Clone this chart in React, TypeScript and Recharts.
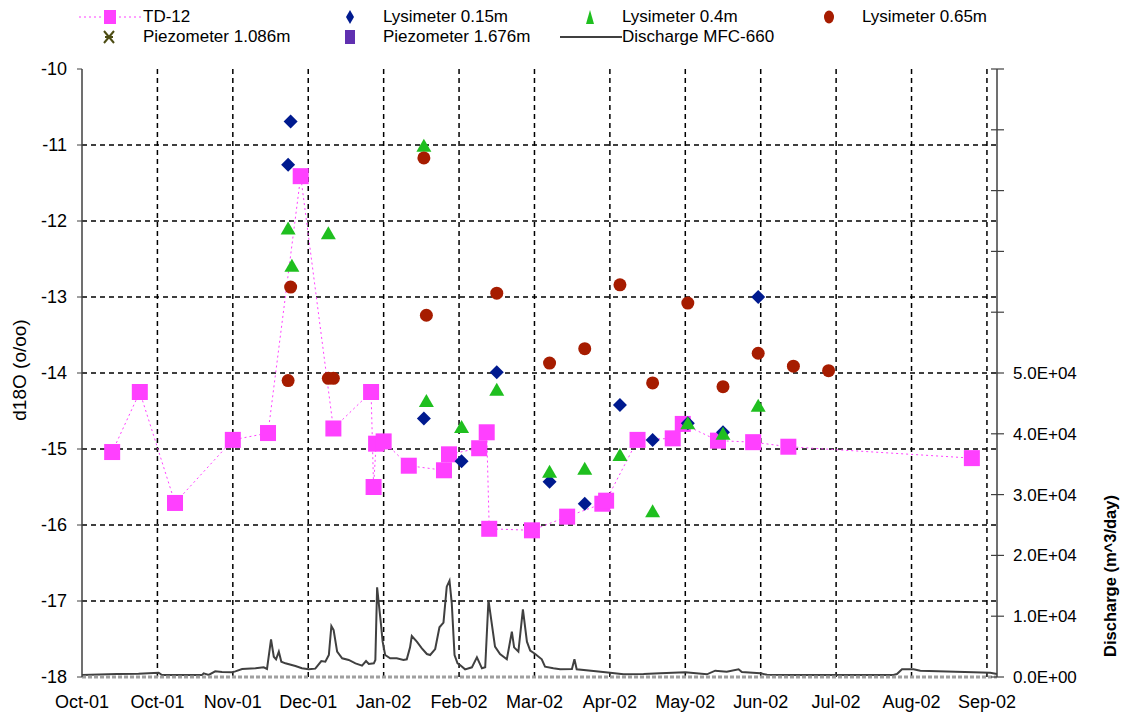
import React from 'react';
import { ComposedChart, Line, Scatter, XAxis, YAxis, ReferenceLine } from 'recharts';

const FONT = '"Liberation Sans", Arial, sans-serif';

// x axis: days since 1 Oct 2001, Excel-style 30 day major unit
const xTicks = [0, 30, 60, 90, 120, 150, 180, 210, 240, 270, 300, 330, 360];
const xTickLabels = ['Oct-01', 'Oct-01', 'Nov-01', 'Dec-01', 'Jan-02', 'Feb-02', 'Mar-02', 'Apr-02', 'May-02', 'Jun-02', 'Jul-02', 'Aug-02', 'Sep-02'];
const d18oTicks = [-18, -17, -16, -15, -14, -13, -12, -11, -10];
const gridLevels = [-17, -16, -15, -14, -13, -12, -11];
const dischargeTicks = [0, 10000, 20000, 30000, 40000, 50000, 60000, 70000, 80000, 90000, 100000];

const seriesNames = ['TD-12', 'Lysimeter 0.15m', 'Lysimeter 0.4m', 'Lysimeter 0.65m', 'Piezometer 1.086m', 'Piezometer 1.676m', 'Discharge MFC-660'];

// TD-12 stream samples
const td12Days = [12, 23, 37, 60, 74, 87, 100, 115, 116, 117, 120, 130, 144, 146, 158, 161, 162, 179, 193, 207, 208.5, 221, 235, 239, 253, 267, 281, 354];
const td12Values = [-15.04, -14.25, -15.71, -14.88, -14.79, -11.41, -14.73, -14.25, -15.5, -14.93, -14.9, -15.22, -15.28, -15.07, -14.99, -14.78, -16.05, -16.07, -15.89, -15.72, -15.68, -14.88, -14.86, -14.67, -14.89, -14.91, -14.97, -15.12];

// lysimeters
const lys015Days = [82, 83, 136, 151, 165, 186, 200, 214, 227, 241, 255, 269];
const lys015Values = [-11.26, -10.69, -14.6, -15.16, -13.99, -15.43, -15.72, -14.42, -14.88, -14.66, -14.78, -13.0];

const lys04Days = [82, 83.5, 98, 136, 137, 151, 165, 186, 200, 214, 227, 241, 255, 269];
const lys04Values = [-12.1, -12.59, -12.16, -11.01, -14.37, -14.71, -14.22, -15.3, -15.26, -15.08, -15.82, -14.66, -14.8, -14.43];

const lys065Days = [82, 83, 98, 100, 136, 137, 165, 186, 200, 214, 227, 241, 255, 269, 283, 297];
const lys065Values = [-14.1, -12.87, -14.07, -14.07, -11.17, -13.24, -12.95, -13.87, -13.68, -12.84, -14.13, -13.08, -14.18, -13.74, -13.91, -13.97];

// discharge MFC-660 (m^3/day)
const dischargeDays = [0, 13.9, 22.5, 30.5, 31.8, 47.8, 48.4, 50.4, 53, 55.7, 59.7, 61, 63.7, 69, 72.3, 73.6, 75.2, 76.3, 77.2, 78.3, 79.3, 80.9, 84.9, 87.5, 90.2, 92.8, 95.2, 96.8, 98.2, 99.2, 100.1, 101.5, 103.5, 106.1, 108.8, 111.4, 113, 114.1, 116.1, 116.7, 117.4, 118.9, 119.6, 120.6, 122.6, 125.2, 127.9, 129.2, 130.5, 131.2, 133.2, 135.2, 137.2, 138.5, 140.5, 142.2, 143.8, 145.1, 146.2, 147.1, 148.2, 149.4, 150.4, 152.4, 155.1, 157.1, 159.1, 160.4, 161.7, 164.3, 166.3, 169, 171, 171.9, 173.6, 175.4, 177, 178.3, 180.3, 182.9, 184.2, 187.5, 190.2, 194.9, 195.9, 196.8, 203.5, 210.1, 215.4, 223.4, 230, 240, 248.6, 251.9, 256.5, 261.2, 262.5, 269.8, 272.5, 283, 322.8, 324.2, 326.2, 330.8, 333.5, 354.7, 361.3, 364];
const dischargeValues = [330, 490, 550, 710, 330, 330, 600, 330, 930, 820, 770, 930, 1320, 1430, 1590, 1320, 6200, 3340, 2910, 4170, 2520, 2250, 1810, 1430, 1260, 1370, 2630, 2520, 3620, 8390, 7730, 4170, 3070, 2800, 2250, 1860, 2630, 2140, 2250, 2800, 14750, 8830, 5810, 3620, 3070, 3070, 2800, 2910, 4880, 6740, 5810, 4720, 3780, 3620, 4600, 8170, 8930, 14860, 15840, 12120, 3620, 2250, 1970, 1260, 1590, 3240, 1430, 1590, 12660, 4990, 3780, 2910, 7450, 4880, 4170, 11130, 5810, 4330, 3780, 2910, 1700, 1430, 1260, 1320, 2910, 1260, 990, 710, 440, 490, 600, 770, 440, 1040, 880, 1260, 820, 600, 380, 330, 330, 490, 1260, 1260, 1040, 770, 710, 490];

const toPoints = (days: number[], values: number[]) => days.map((day, i) => ({ day, value: values[i] }));

const td12 = toPoints(td12Days, td12Values);
const lys015 = toPoints(lys015Days, lys015Values);
const lys04 = toPoints(lys04Days, lys04Values);
const lys065 = toPoints(lys065Days, lys065Values);
const discharge = dischargeDays.map((day, i) => ({ day, q: dischargeValues[i] }));

const PINK = '#ff40ff';
const NAVY = '#001a8f';
const GREEN = '#1fbf1f';
const RED = '#a61c00';
const OLIVE = '#4d4d14';
const PURPLE = '#6030b0';
const DARK = '#404040';

const sci = (v: number) => {
    if (v > 50000) return '';
    if (v === 0) return '0.0E+00';
    const exp = Math.floor(Math.log10(v));
    return `${(v / Math.pow(10, exp)).toFixed(1)}E+${String(exp).padStart(2, '0')}`;
};

const SquareMark = ({ cx, cy, size = 16 }: any) => (
    <rect x={cx - size / 2} y={cy - size / 2} width={size} height={size} fill={PINK} />
);
const DiamondMark = ({ cx, cy, r = 7 }: any) => (
    <path d={`M${cx},${cy - r}L${cx + r},${cy}L${cx},${cy + r}L${cx - r},${cy}Z`} fill={NAVY} />
);
const TriangleMark = ({ cx, cy, r = 7 }: any) => (
    <path d={`M${cx},${cy - r}L${cx + r + 0.5},${cy + r - 1}L${cx - r - 0.5},${cy + r - 1}Z`} fill={GREEN} />
);
const CircleMark = ({ cx, cy, r = 6.5 }: any) => <circle cx={cx} cy={cy} r={r} fill={RED} />;

// right axis ticks cross the axis line
const RightTick = (props: any) => {
    const { x, y, payload } = props;
    const axisX = x - 16;
    return (
        <g>
            <line x1={axisX - 6} x2={axisX + 7} y1={y} y2={y} stroke={DARK} strokeWidth={1.2} />
            <text x={x} y={y} dy="0.35em" textAnchor="start" fontSize={17} fill="#000" fontFamily={FONT}>
                {sci(payload.value)}
            </text>
        </g>
    );
};

const LegendMarker = ({ kind }: { kind: string }) => {
    switch (kind) {
        case 'square':
            return (
                <svg width={62} height={16}>
                    <line x1={0} x2={62} y1={8} y2={8} stroke={PINK} strokeDasharray="2 3" />
                    <rect x={25} y={1} width={12} height={14} fill={PINK} />
                </svg>
            );
        case 'diamond':
            return <svg width={16} height={16}><path d="M8,1L12,8L8,15L4,8Z" fill={NAVY} /></svg>;
        case 'triangle':
            return <svg width={16} height={16}><path d="M8,1L12,15L4,15Z" fill={GREEN} /></svg>;
        case 'circle':
            return <svg width={16} height={16}><ellipse cx={8} cy={8} rx={5} ry={6.5} fill={RED} /></svg>;
        case 'star':
            return (
                <svg width={16} height={16}>
                    <path d="M3,2L13,14M13,2L3,14M4,8L12,8" stroke={OLIVE} strokeWidth={2} />
                </svg>
            );
        case 'purple':
            return <svg width={16} height={16}><rect x={3} y={1} width={10} height={14} fill={PURPLE} /></svg>;
        default:
            return <svg width={62} height={16}><line x1={0} x2={62} y1={8} y2={8} stroke={DARK} strokeWidth={2} /></svg>;
    }
};

const legendLayout = [
    { kind: 'square', mx: 79, tx: 143, y: 17 },
    { kind: 'diamond', mx: 342, tx: 383, y: 17 },
    { kind: 'triangle', mx: 582, tx: 622, y: 17 },
    { kind: 'circle', mx: 821, tx: 862, y: 17 },
    { kind: 'star', mx: 101, tx: 143, y: 37 },
    { kind: 'purple', mx: 342, tx: 383, y: 37 },
    { kind: 'line', mx: 560, tx: 622, y: 37 },
];

const App = () => {
    return (
        <div style={{ position: 'absolute', left: 0, top: 0, width: 1128, height: 724, background: '#fff', fontFamily: FONT }}>
            {/* Legend */}
            {legendLayout.map((item, i) => (
                <React.Fragment key={`legend-${i}`}>
                    <div style={{ position: 'absolute', left: item.mx, top: item.y - 8, height: 16, lineHeight: 0 }}>
                        <LegendMarker kind={item.kind} />
                    </div>
                    <div style={{ position: 'absolute', left: item.tx, top: item.y - 10, fontSize: 17, lineHeight: '20px', whiteSpace: 'nowrap' }}>
                        {seriesNames[i]}
                    </div>
                </React.Fragment>
            ))}

            <ComposedChart width={1128} height={724} margin={{ top: 69, right: 0, bottom: 0, left: 0 }}>
                <XAxis
                    type="number"
                    dataKey="day"
                    domain={[0, 364]}
                    ticks={xTicks}
                    tickFormatter={(d: number) => xTickLabels[xTicks.indexOf(d)]}
                    height={47}
                    tickLine={false}
                    tickMargin={12}
                    axisLine={{ stroke: '#a0a0a0', strokeWidth: 3, strokeDasharray: '4 2' }}
                    tick={{ fontSize: 18, fill: '#000', fontFamily: FONT }}
                    interval={0}
                />
                <YAxis
                    yAxisId="left"
                    domain={[-18, -10]}
                    ticks={d18oTicks}
                    width={82}
                    tickSize={5}
                    tickMargin={10}
                    interval={0}
                    axisLine={{ stroke: DARK, strokeWidth: 1.5 }}
                    tickLine={{ stroke: DARK }}
                    tick={{ fontSize: 18, fill: '#000', fontFamily: FONT }}
                />
                <YAxis
                    yAxisId="right"
                    orientation="right"
                    domain={[0, 100000]}
                    ticks={dischargeTicks}
                    width={131}
                    tickSize={6}
                    tickMargin={10}
                    interval={0}
                    tickLine={false}
                    axisLine={{ stroke: DARK, strokeWidth: 1.5 }}
                    tick={<RightTick />}
                />

                {gridLevels.map((v) => (
                    <ReferenceLine key={`h-${v}`} yAxisId="left" y={v} stroke="#000" strokeWidth={1.5} strokeDasharray="5 4" />
                ))}
                {xTicks.slice(1).map((d) => (
                    <ReferenceLine key={`v-${d}`} yAxisId="left" x={d} stroke="#000" strokeWidth={1.5} strokeDasharray="5 4" />
                ))}

                <Line
                    yAxisId="right"
                    data={discharge}
                    dataKey="q"
                    stroke={DARK}
                    strokeWidth={2}
                    dot={false}
                    isAnimationActive={false}
                />
                <Line
                    yAxisId="left"
                    data={td12}
                    dataKey="value"
                    stroke={PINK}
                    strokeWidth={1}
                    strokeDasharray="2 3"
                    dot={(p: any) => <SquareMark key={`sq-${p.index}`} cx={p.cx} cy={p.cy} />}
                    isAnimationActive={false}
                />
                <Scatter yAxisId="left" data={lys015} dataKey="value" shape={(p: any) => <DiamondMark cx={p.cx} cy={p.cy} />} isAnimationActive={false} />
                <Scatter yAxisId="left" data={lys04} dataKey="value" shape={(p: any) => <TriangleMark cx={p.cx} cy={p.cy} />} isAnimationActive={false} />
                <Scatter yAxisId="left" data={lys065} dataKey="value" shape={(p: any) => <CircleMark cx={p.cx} cy={p.cy} />} isAnimationActive={false} />
            </ComposedChart>

            {/* Axis titles */}
            <div style={{ position: 'absolute', left: 20, top: 370, transform: 'translate(-50%, -50%) rotate(-90deg)', fontSize: 19, whiteSpace: 'nowrap' }}>
                d18O (o/oo)
            </div>
            <div style={{ position: 'absolute', left: 1110, top: 576, transform: 'translate(-50%, -50%) rotate(-90deg)', fontSize: 16.5, fontWeight: 'bold', whiteSpace: 'nowrap' }}>
                Discharge (m^3/day)
            </div>
        </div>
    );
};

export default App;
